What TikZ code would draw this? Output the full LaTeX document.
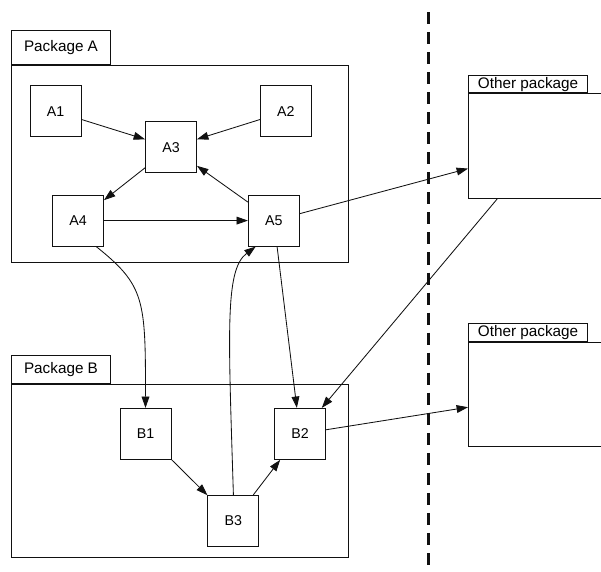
\documentclass[tikz,border=0pt]{standalone}
\usepackage{fontspec}
\setmainfont{Liberation Sans}
\usepackage{tikz}
\usetikzlibrary{calc,arrows.meta}
\definecolor{ink}{HTML}{111111}
\tikzset{
  box/.style={draw=ink, line width=0.9pt, minimum size=1.7cm, inner sep=0pt,
    font=\fontsize{13.5}{15}\selectfont},
  pkgbody/.style={draw=ink, line width=0.9pt, inner sep=0pt, anchor=north west},
  tab/.style={draw=ink, line width=0.9pt, inner sep=0pt, anchor=south west,
    font=\fontsize{14.5}{16}\selectfont},
  link/.style={draw=ink, line width=0.8pt, -{Triangle[length=3.8mm,width=2.6mm]}},
  dashedline/.style={draw=ink, line width=2.4pt, dash pattern=on 11.4pt off 7.6pt},
}
\begin{document}
\begin{tikzpicture}
  \useasboundingbox (0,0) rectangle (20.033,19.033);

  % packages
  \node[pkgbody, minimum width=11.23cm, minimum height=6.57cm] (PA) at (0.367,16.87) {};
  \node[tab, minimum width=3.3cm, minimum height=1.13cm] (PAtab) at (PA.north west) {Package A};
  \node[pkgbody, minimum width=11.23cm, minimum height=5.77cm] (PB) at (0.367,6.233) {};
  \node[tab, minimum width=3.3cm, minimum height=0.95cm] (PBtab) at (PB.north west) {Package B};
  \node[pkgbody, minimum width=5cm, minimum height=3.5cm] (O1) at (15.6,15.93) {};
  \node[tab, minimum width=3.97cm, minimum height=0.57cm] (O1tab) at (O1.north west) {Other package};
  \node[pkgbody, minimum width=5cm, minimum height=3.47cm] (O2) at (15.6,7.63) {};
  \node[tab, minimum width=3.97cm, minimum height=0.6cm] (O2tab) at (O2.north west) {Other package};

  % classes
  \node[box] (A1) at (1.85,15.32) {A1};
  \node[box] (A2) at (9.53,15.32) {A2};
  \node[box] (A3) at (5.70,14.12) {A3};
  \node[box] (A4) at (2.60,11.68) {A4};
  \node[box] (A5) at (9.13,11.68) {A5};
  \node[box] (B1) at (4.85,4.57) {B1};
  \node[box] (B2) at (10.0,4.57) {B2};
  \node[box] (B3) at (7.78,1.67) {B3};

  \coordinate (Ltop) at (14.29,18.63);
  \coordinate (Lbot) at (14.29,0);
  \draw[dashedline] (Ltop) -- (Lbot);

  \draw[link] (A1) -- (A3);
  \draw[link] (A2) -- (A3);
  \draw[link] (A3) -- (A4);
  \draw[link] (A5) -- (A3);
  \draw[link] (A4) -- (A5);
  \draw[link] (A5) -- ([yshift=-0.75cm]O1.west);
  \draw[link] (A4.-55) .. controls +(1.63,-1.3) and +(0,3.6) .. (B1.north);
  \draw[link] (B3.north) .. controls +(-0.17,5.5) and +(-1.03,-0.77) .. (A5.-125);
  \draw[link] (A5) -- (B2);
  \draw[link] ([xshift=0.97cm]O1.south west) -- (B2);
  \draw[link] (B2) -- ([yshift=-0.42cm]O2.west);
  \draw[link] (B1) -- (B3);
  \draw[link] (B3) -- (B2);
\end{tikzpicture}
\end{document}
